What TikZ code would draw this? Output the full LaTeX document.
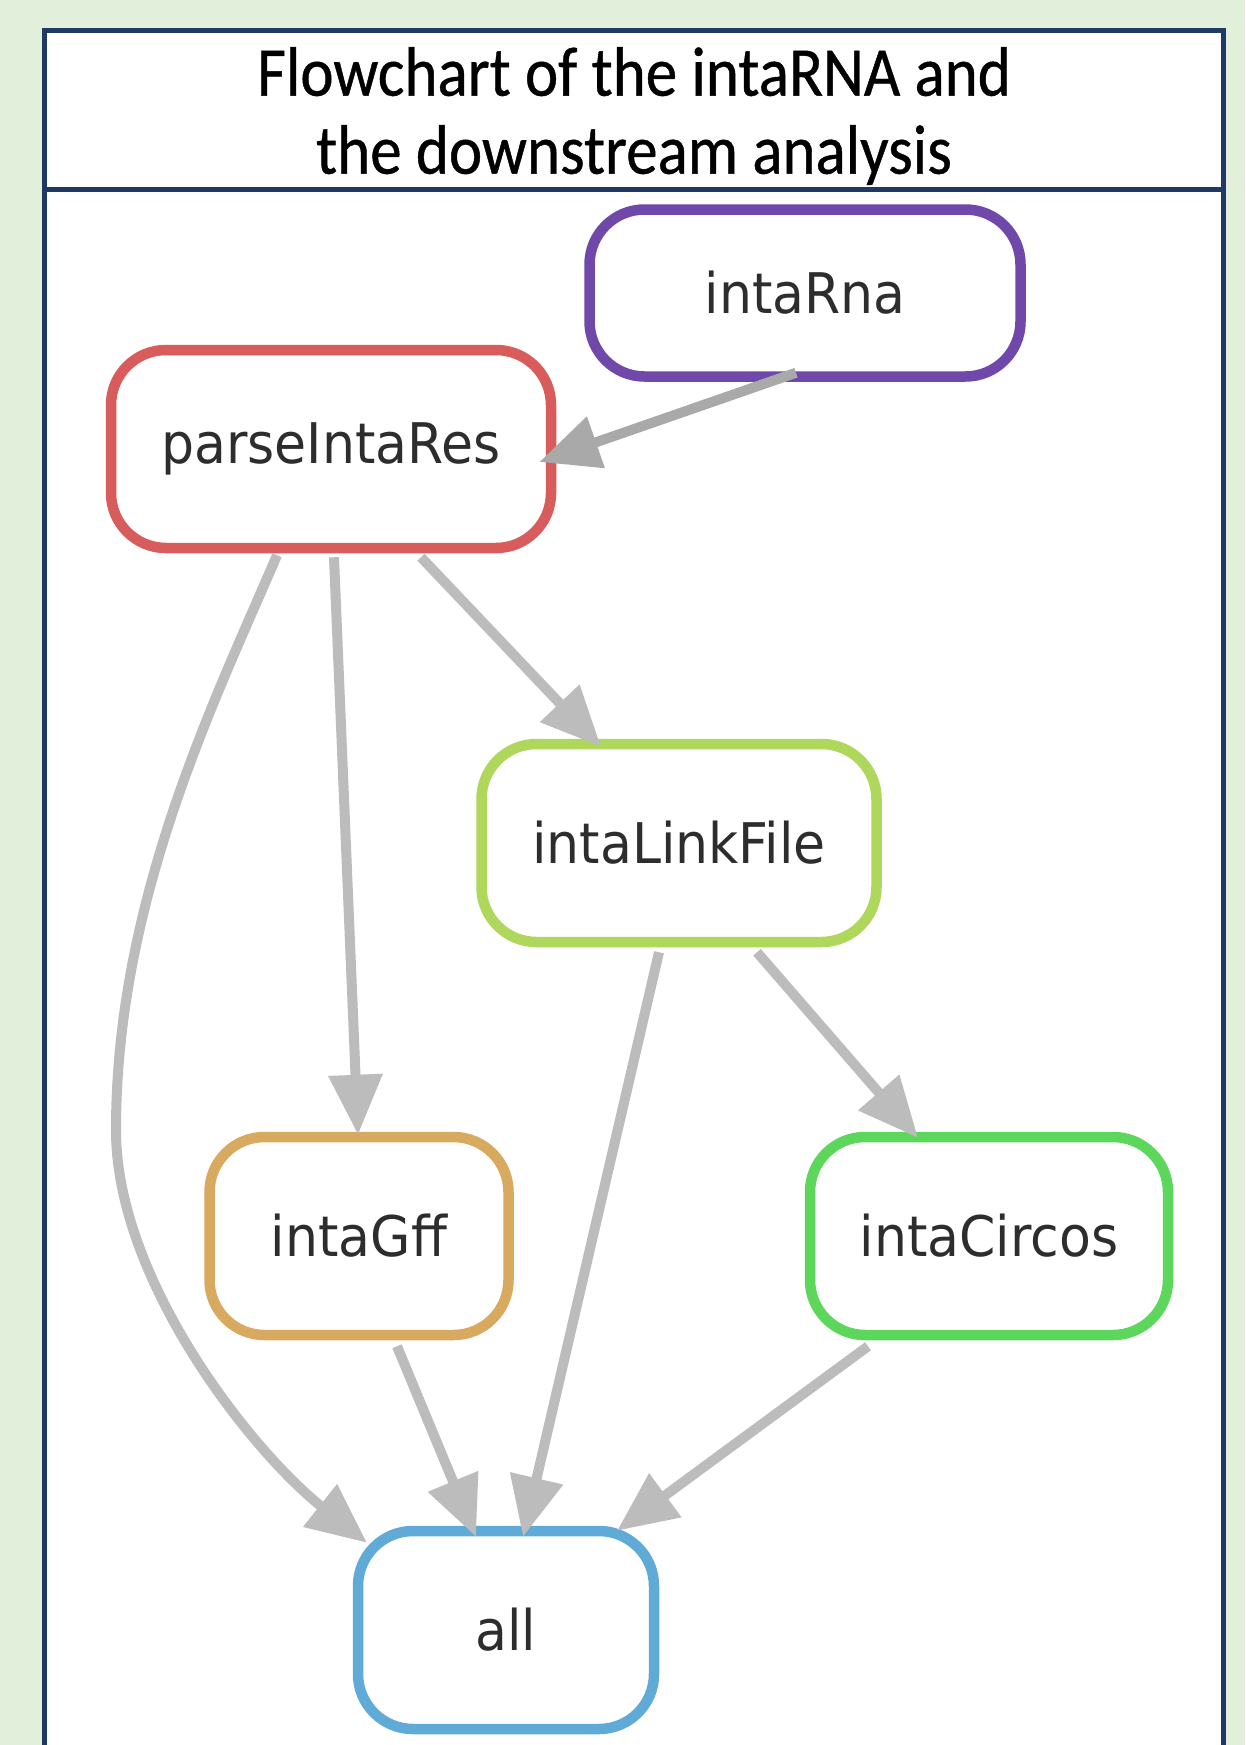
\documentclass[tikz,border=0pt]{standalone}
\usepackage{fontspec}
\setmainfont{Carlito}
\newfontfamily\titlefont[FakeStretch=0.9,FakeBold=0.6]{Carlito}
\newfontfamily\dvs[FakeStretch=0.93]{DejaVu Sans}
\usetikzlibrary{arrows.meta,calc}
\definecolor{bgc}{RGB}{226,239,218}
\definecolor{framec}{RGB}{31,56,100}
\definecolor{edgec}{RGB}{188,188,188}
\definecolor{txtc}{RGB}{45,45,45}
\definecolor{cpurple}{RGB}{112,72,170}
\definecolor{cred}{RGB}{217,92,92}
\definecolor{cygreen}{RGB}{175,215,92}
\definecolor{ctan}{RGB}{215,170,95}
\definecolor{cgreen}{RGB}{92,215,92}
\definecolor{cblue}{RGB}{95,170,215}
\tikzset{
  rule/.style={draw=#1, line width=10.5pt, fill=white, rectangle, rounded corners=55pt,
     minimum height=198pt, inner sep=0pt, text=txtc, font=\dvs\fontsize{56}{62}\selectfont},
  edge/.style={draw=edgec, line width=10pt, -{Triangle[length=60pt,width=52pt]}},
  framestyle/.style={draw=framec, line width=5pt},
  titlestyle/.style={align=center, inner sep=0pt, font=\titlefont\fontsize{70}{78}\selectfont}
}
\begin{document}
\begin{tikzpicture}[x=1pt,y=1pt]
\useasboundingbox (0,0) rectangle (1245,-1745);
\fill[bgc] (0,0) rectangle (1245,-1745);
% frame
\fill[white] (44,-31) rectangle (1223,-1750);
\draw[framestyle] (44,-1750) -- (44,-31) -- (1223,-31) -- (1223,-1750);
\draw[framestyle] (44,-189) -- (1223,-189);
\node[titlestyle] (title) at (634,-116) {Flowchart of the intaRNA and\\the downstream analysis};
% nodes
\node[rule=cpurple, minimum width=431pt, minimum height=167pt] (rna) at (805,-293) {intaRna};
\node[rule=cred, minimum width=440pt] (parse) at (331,-449) {parseIntaRes};
\node[rule=cygreen, minimum width=395pt] (link) at (679,-843) {intaLinkFile};
\node[rule=ctan, minimum width=299pt] (gff) at (359,-1236) {intaGff};
\node[rule=cgreen, minimum width=358pt] (circos) at (989,-1236) {intaCircos};
\node[rule=cblue, minimum width=296pt] (all) at (506,-1630) {all};
% edges
\draw[edge, draw=edgec!90!black] ($(rna.south)+(-9,9)$) -- ($(parse.east)+(-17,-13)$);
\draw[edge] ($(parse.south)+(3,-4)$) -- ($(gff.north)+(-1,-3)$);
\draw[edge] ($(parse.south)+(90,-4)$) -- ($(link.north)+(-78,-8)$);
\draw[edge] ($(parse.south)+(-54,-2)$) .. controls (215,-700) and (116,-900) .. (116,-1130)
   .. controls (116,-1280) and (251.5,-1451) .. ($(all.north)+(-139,-17)$);
\draw[edge] ($(link.south)+(-20,-5)$) -- ($(all.north)+(17,-11)$);
\draw[edge] ($(link.south)+(78,-5)$) -- ($(circos.north)+(-71,-6)$);
\draw[edge] ($(gff.south)+(38,-6)$) -- ($(all.north)+(-30,-11)$);
\draw[edge] ($(circos.south)+(-121,-6)$) -- ($(all.north)+(111,-5)$);
\end{tikzpicture}
\end{document}
